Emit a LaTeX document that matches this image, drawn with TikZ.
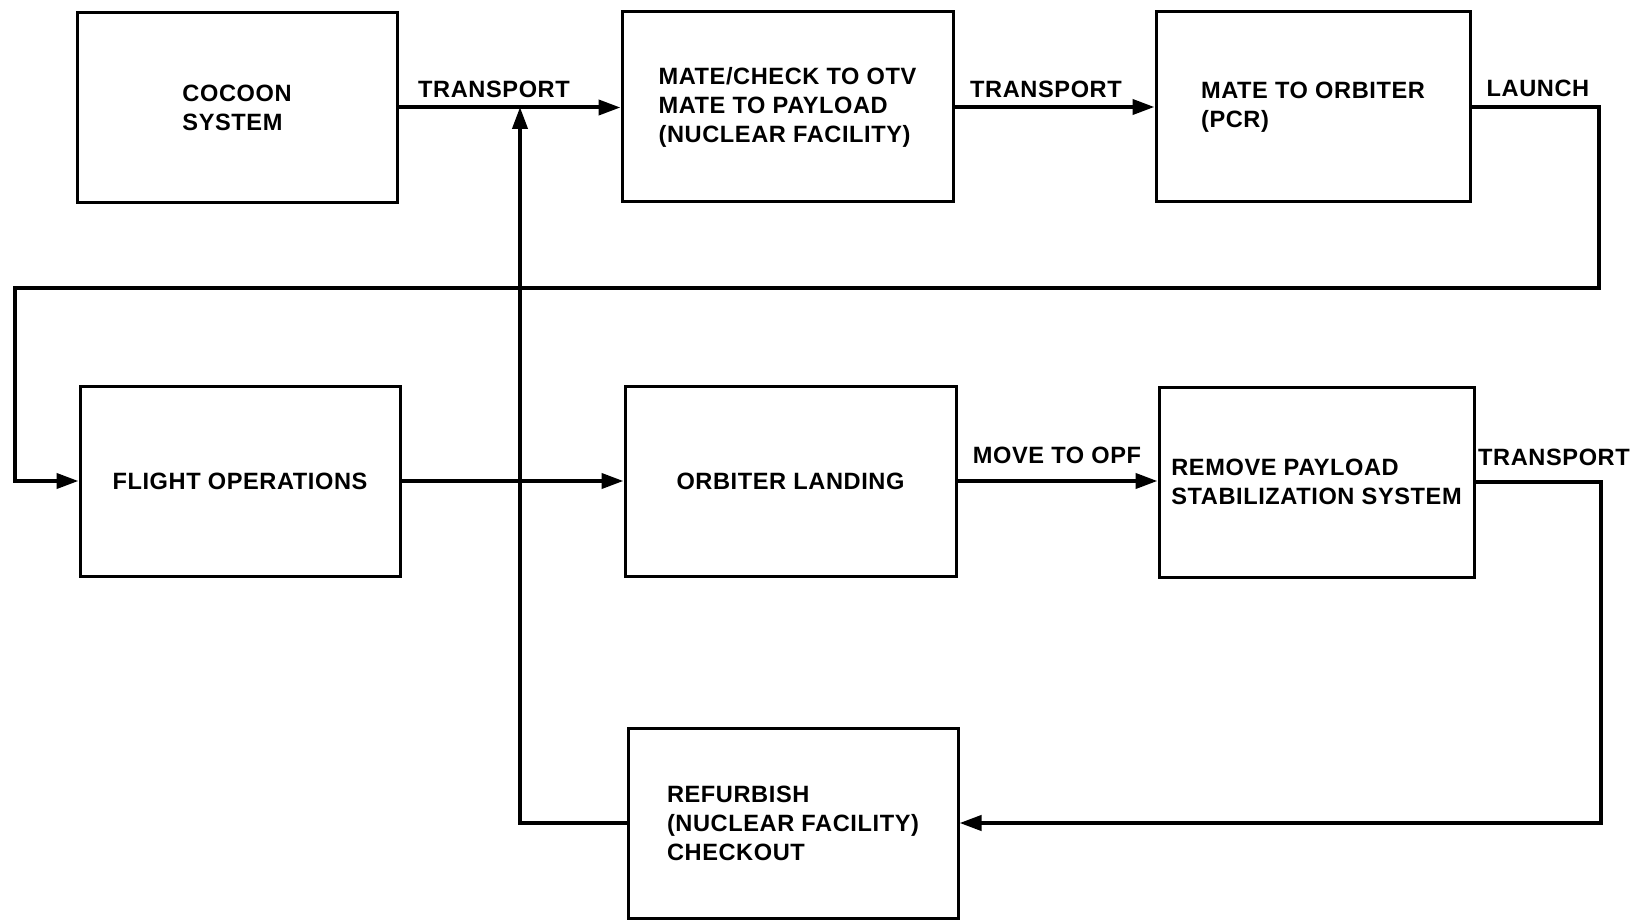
\documentclass[tikz,border=0pt]{standalone}
\usepackage{fontspec}
\setmainfont[LetterSpace=2.5]{Liberation Sans}
\usetikzlibrary{arrows.meta}

\begin{document}
\begin{tikzpicture}[
	x=0.5pt,
	y=-0.5pt,
	block/.style={
		rectangle,
		draw=black,
		line width=1.5pt,
		minimum height=95pt,
		align=left,
		inner sep=0pt,
		font=\fontsize{11.8}{14.5}\selectfont\bfseries
	},
	tag/.style={font=\fontsize{11.8}{14.5}\selectfont\bfseries, inner sep=0pt},
	flow/.style={-{Triangle[length=11pt,width=7.5pt]}, line width=2pt, black}
]
\useasboundingbox (0,0) rectangle (1630,920);

\node[block, minimum width=160pt] (cocoon) at (237,107.5) {COCOON\\SYSTEM};
\node[block, minimum width=165.5pt] (mate) at (787.5,107) {MATE/CHECK TO OTV\\MATE TO PAYLOAD\\(NUCLEAR FACILITY)};
\node[block, minimum width=157pt] (orbiter) at (1313,107) {MATE TO ORBITER\\(PCR)};

\node[block, minimum width=160pt] (flight) at (240,481) {FLIGHT OPERATIONS};
\node[block, minimum width=165.5pt] (landing) at (790.5,481) {ORBITER LANDING};
\node[block, minimum width=157.5pt] (remove) at (1316.5,482) {REMOVE PAYLOAD\\STABILIZATION SYSTEM};

\node[block, minimum width=165pt] (refurb) at (793,823) {REFURBISH\\(NUCLEAR FACILITY)\\CHECKOUT};

\node[tag] (transA) at (494,89) {TRANSPORT};
\node[tag] (transB) at (1046,89) {TRANSPORT};
\node[tag] (launch) at (1538,88) {LAUNCH};
\node[tag] (opf) at (1057,455) {MOVE TO OPF};
\node[tag] (transC) at (1554,457) {TRANSPORT};

\coordinate (launchR) at (1599,288);
\coordinate (launchL) at (15,288);
\coordinate (backR) at (1601,823);
\coordinate (backT) at (520,107);

\draw[flow] (cocoon.east) -- (cocoon.east -| mate.west);
\draw[flow] (mate.east) -- (orbiter.west);
\draw[flow] (orbiter.east) -| (launchR) -- (launchL) |- (flight.west);
\draw[flow] (flight.east) -- (landing.west);
\draw[flow] (landing.east) -- (landing.east -| remove.west);
\draw[flow] (remove.east) -| (backR) -- (refurb.east);
\draw[flow] (refurb.west) -| (backT);
\end{tikzpicture}
\end{document}
